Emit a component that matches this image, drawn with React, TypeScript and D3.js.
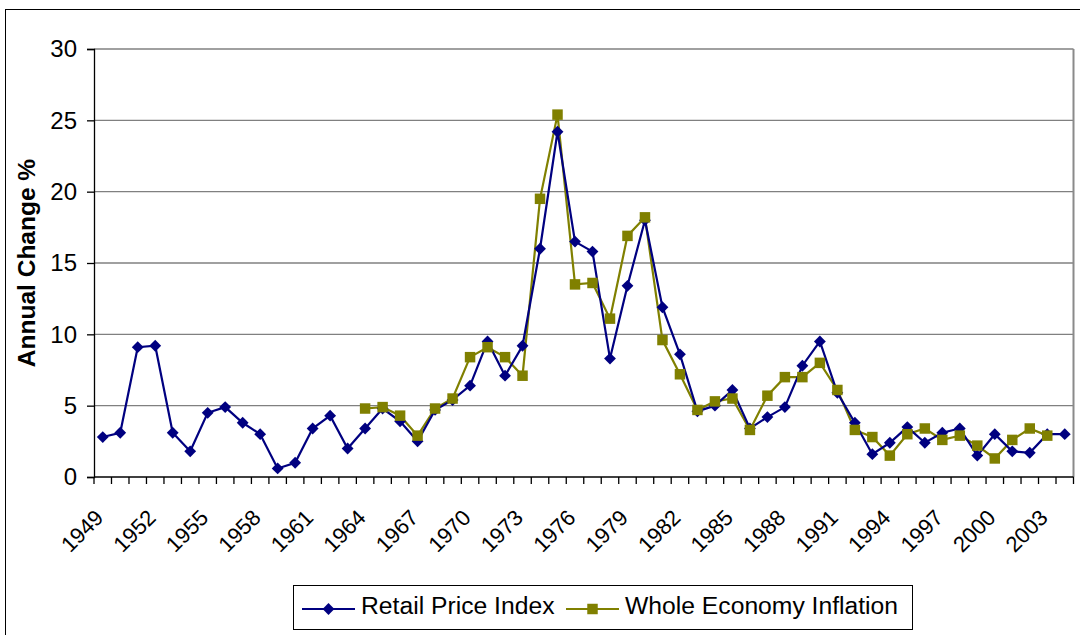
import React, { useEffect, useRef } from "react";
import * as d3 from "d3";

const years = d3.range(1949, 2005);

const rpi = [2.8, 3.1, 9.1, 9.2, 3.1, 1.8, 4.5, 4.9, 3.8, 3.0, 0.6, 1.0, 3.4, 4.3, 2.0, 3.4, 4.8, 3.9, 2.5, 4.7,
  5.4, 6.4, 9.5, 7.1, 9.2, 16.0, 24.2, 16.5, 15.8, 8.3, 13.4, 18.0, 11.9, 8.6, 4.6, 5.0, 6.1, 3.4, 4.2, 4.9,
  7.8, 9.5, 5.9, 3.8, 1.6, 2.4, 3.5, 2.4, 3.1, 3.4, 1.5, 3.0, 1.8, 1.7, 3.0, 3.0];

// whole economy inflation starts in 1964 and ends in 2003
const weiStart = 1964;
const wei = [4.8, 4.9, 4.3, 2.9, 4.8, 5.5, 8.4, 9.1, 8.4, 7.1, 19.5, 25.4, 13.5, 13.6, 11.1, 16.9, 18.2, 9.6,
  7.2, 4.7, 5.3, 5.5, 3.3, 5.7, 7.0, 7.0, 8.0, 6.1, 3.3, 2.8, 1.5, 3.0, 3.4, 2.6, 2.9, 2.2, 1.3, 2.6, 3.4, 2.9];

const yTicks = [0, 5, 10, 15, 20, 25, 30];
const labelYears = d3.range(1949, 2004, 3);

const W = 1080;
const H = 635;
const font = "'Liberation Sans', Arial, sans-serif";

export default function App() {
  const ref = useRef<SVGSVGElement>(null);

  useEffect(() => {
    const svg = d3.select(ref.current);
    svg.selectAll("*").remove();

    const left = 94, right = 1073.5, top = 49, bottom = 477;

    const x = d3.scaleBand<number>().domain(years).range([left, right]).padding(0);
    const y = d3.scaleLinear().domain([0, 30]).range([bottom, top]);
    const cx = (yr: number) => (x(yr) as number) + x.bandwidth() / 2;

    svg.append("rect").attr("width", W).attr("height", H).attr("fill", "#fff");

    // outer frame
    svg.append("rect")
      .attr("x", 5.5).attr("y", 9.5).attr("width", 1100).attr("height", 700)
      .attr("fill", "none").attr("stroke", "#000").attr("stroke-width", 1);

    // gridlines
    svg.append("g").selectAll("line")
      .data(yTicks.slice(1))
      .enter().append("line")
      .attr("x1", left).attr("x2", right)
      .attr("y1", d => y(d)).attr("y2", d => y(d))
      .attr("stroke", "#808080").attr("stroke-width", 1.3);

    // plot border right
    svg.append("line")
      .attr("x1", right).attr("x2", right).attr("y1", top).attr("y2", bottom)
      .attr("stroke", "#8a8a8a").attr("stroke-width", 2);

    // y axis
    const yAxis = svg.append("g").attr("transform", `translate(${left},0)`)
      .call(d3.axisLeft(y).tickValues(yTicks).tickSize(7).tickPadding(10).tickFormat(d3.format("d")));
    yAxis.select(".domain").attr("stroke", "#000").attr("stroke-width", 1.3);
    yAxis.selectAll(".tick line").attr("stroke", "#000").attr("stroke-width", 1.3);
    yAxis.selectAll("text").attr("font-family", font).attr("font-size", 24).attr("fill", "#000");

    // x axis with ticks between categories
    const xg = svg.append("g");
    xg.append("line").attr("x1", left).attr("x2", right).attr("y1", bottom).attr("y2", bottom)
      .attr("stroke", "#000").attr("stroke-width", 1.3);
    xg.selectAll("line.tk")
      .data(d3.range(years.length + 1))
      .enter().append("line").attr("class", "tk")
      .attr("x1", i => x.step() * i + left).attr("x2", i => x.step() * i + left)
      .attr("y1", bottom).attr("y2", bottom + 7)
      .attr("stroke", "#000").attr("stroke-width", 1.3);
    xg.selectAll("text")
      .data(labelYears)
      .enter().append("text")
      .attr("transform", d => `translate(${cx(d) + 2},${bottom + 42}) rotate(-45)`)
      .attr("text-anchor", "end")
      .attr("font-family", font).attr("font-size", 22)
      .text(d => d);

    // y axis title
    svg.append("text")
      .attr("transform", `translate(35,${(top + bottom) / 2}) rotate(-90)`)
      .attr("text-anchor", "middle")
      .attr("font-family", font).attr("font-size", 24.5).attr("font-weight", "bold")
      .text("Annual Change %");

    const line = d3.line<[number, number]>().x(d => cx(d[0])).y(d => y(d[1]));

    const rpiData: [number, number][] = years.map((yr, i) => [yr, rpi[i]]);
    const weiData: [number, number][] = wei.map((v, i) => [weiStart + i, v]);

    const navy = "#000080";
    const olive = "#808000";

    const diamond = d3.symbol().type(d3.symbolSquare).size(70);
    const square = d3.symbol().type(d3.symbolSquare).size(110);

    svg.append("path").datum(weiData).attr("d", line)
      .attr("fill", "none").attr("stroke", olive).attr("stroke-width", 2.2);
    svg.append("path").datum(rpiData).attr("d", line)
      .attr("fill", "none").attr("stroke", navy).attr("stroke-width", 2.2);

    svg.append("g").selectAll("path")
      .data(rpiData)
      .enter().append("path")
      .attr("d", diamond)
      .attr("transform", d => `translate(${cx(d[0])},${y(d[1])}) rotate(45)`)
      .attr("fill", navy);

    svg.append("g").selectAll("path")
      .data(weiData)
      .enter().append("path")
      .attr("d", square)
      .attr("transform", d => `translate(${cx(d[0])},${y(d[1])})`)
      .attr("fill", olive);

    // legend
    const lg = svg.append("g");
    lg.append("rect").attr("x", 293.5).attr("y", 585.5).attr("width", 619).attr("height", 44)
      .attr("fill", "#fff").attr("stroke", "#000").attr("stroke-width", 1);
    const items = [
      { name: "Retail Price Index", color: navy, x0: 302, sym: diamond, rot: 45 },
      { name: "Whole Economy Inflation", color: olive, x0: 566, sym: square, rot: 0 },
    ];
    items.forEach(it => {
      lg.append("line").attr("x1", it.x0).attr("x2", it.x0 + 53).attr("y1", 609).attr("y2", 609)
        .attr("stroke", it.color).attr("stroke-width", 2.2);
      lg.append("path").attr("d", it.sym)
        .attr("transform", `translate(${it.x0 + 26.5},609) rotate(${it.rot})`)
        .attr("fill", it.color);
      lg.append("text").attr("x", it.x0 + 59).attr("y", 614)
        .attr("font-family", font).attr("font-size", 24.7)
        .text(it.name);
    });
  }, []);

  return (
    <svg ref={ref} width={W} height={H} style={{ position: "absolute", left: 0, top: 0 }} />
  );
}
